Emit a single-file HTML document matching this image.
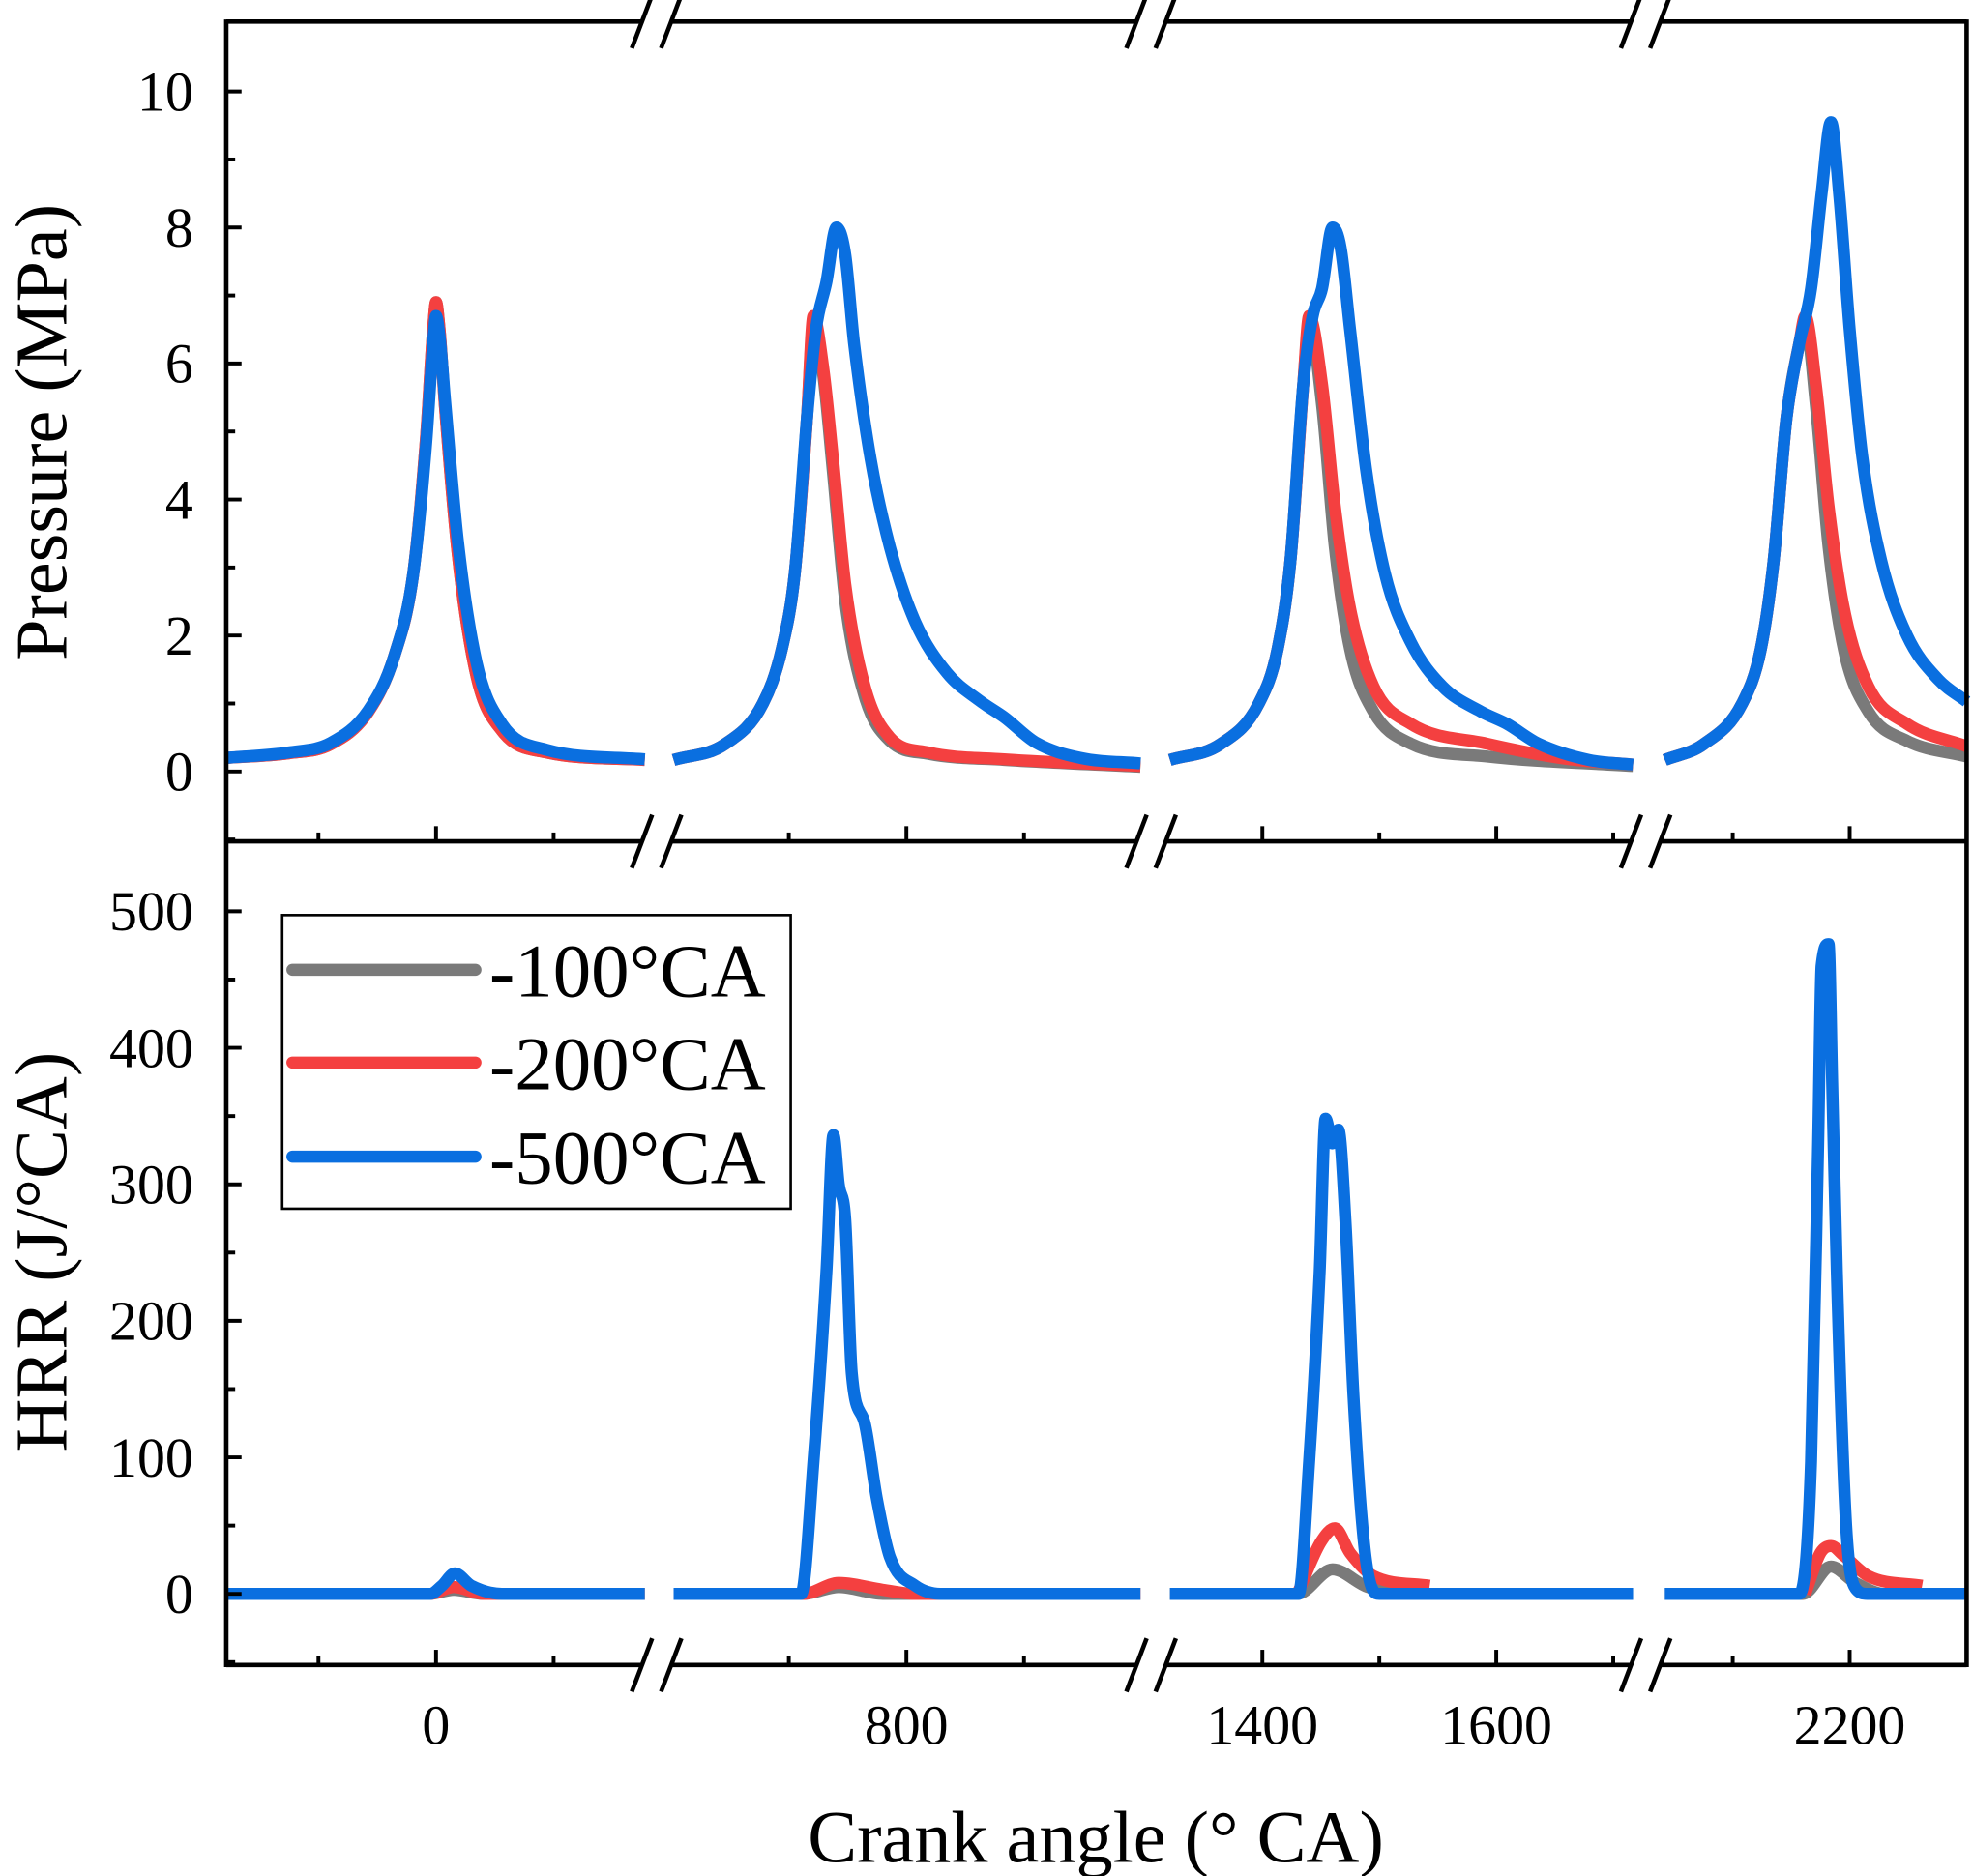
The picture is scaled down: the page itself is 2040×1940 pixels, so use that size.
<!DOCTYPE html>
<html><head><meta charset="utf-8"><style>html,body{margin:0;padding:0;background:#fff}svg{display:block}</style></head>
<body>
<svg id="chart" width="2040" height="1940" viewBox="0 0 1552 1476" preserveAspectRatio="none" xmlns="http://www.w3.org/2000/svg" font-family="'Liberation Serif', serif">
<g id="g"></g>
</svg>
<script>
// ===== data =====
const seriesNames = ['-100°CA','-200°CA','-500°CA'];
const seriesColors = ['#7a7a7a','#f44040','#0a6fe0'];
// pressure [angle, MPa] per segment
const pGray1 = [[-357,0.2],[-250,0.27],[-179,0.4],[-115,0.88],[-71,1.7],[-39,2.9],[-17,4.9],[-5,6.5],[0,6.9],[6,6.5],[15,5.4],[37,3.2],[69,1.4],[112,0.6],[188,0.28],[355,0.17]];
const pRed1 = [[-357,0.2],[-250,0.27],[-179,0.4],[-115,0.88],[-71,1.7],[-39,2.9],[-17,4.9],[-5,6.5],[0,6.9],[6,6.5],[15,5.4],[37,3.2],[69,1.4],[112,0.6],[188,0.28],[355,0.17]];
const pBlue1 = [[-357,0.2],[-250,0.28],[-179,0.42],[-115,0.9],[-71,1.7],[-39,2.9],[-17,4.8],[-5,6.3],[0,6.7],[6,6.4],[15,5.5],[37,3.4],[69,1.6],[112,0.7],[188,0.32],[355,0.18]];
const pGray2 = [[404,0.17],[491,0.4],[556,1.0],[588,1.8],[610,2.9],[631,5.2],[642,6.6],[659,5.8],[675,4.4],[696,2.5],[729,1.1],[772,0.45],[837,0.26],[966,0.17],[1198,0.07]];
const pRed2 = [[404,0.17],[491,0.4],[556,1.0],[588,1.8],[610,2.9],[631,5.2],[642,6.7],[659,5.9],[675,4.6],[696,2.75],[729,1.25],[772,0.5],[837,0.28],[966,0.18],[1198,0.08]];
const pBlue2 = [[404,0.17],[491,0.4],[556,1.0],[588,1.8],[610,2.9],[631,5.2],[646,6.5],[664,7.2],[681,8.0],[696,7.6],[711,6.3],[739,4.6],[772,3.3],[815,2.2],[869,1.45],[923,1.05],[966,0.8],[1021,0.42],[1096,0.2],[1198,0.12]];
const pGray3 = [[1321,0.17],[1364,0.4],[1397,1.0],[1413,1.8],[1424,3.1],[1435,5.7],[1440,6.6],[1451,5.4],[1462,3.3],[1475,1.8],[1495,0.88],[1527,0.41],[1592,0.22],[1717,0.08]];
const pRed3 = [[1321,0.17],[1364,0.4],[1397,1.0],[1413,1.8],[1424,3.1],[1435,5.7],[1440,6.7],[1451,5.7],[1462,3.9],[1475,2.4],[1495,1.25],[1527,0.7],[1592,0.41],[1658,0.19],[1717,0.1]];
const pBlue3 = [[1321,0.17],[1364,0.4],[1397,1.0],[1413,1.8],[1424,3.1],[1435,5.7],[1443,6.7],[1451,7.1],[1460,8.0],[1467,7.7],[1475,6.5],[1489,4.4],[1505,2.9],[1527,1.9],[1554,1.25],[1587,0.88],[1609,0.7],[1636,0.41],[1679,0.17],[1717,0.1]];
const pGray4 = [[2042,0.17],[2075,0.4],[2108,1.0],[2124,1.8],[2135,3.1],[2146,5.2],[2157,6.3],[2162,6.6],[2171,5.4],[2182,3.3],[2195,1.8],[2216,0.88],[2249,0.45],[2300,0.22]];
const pRed4 = [[2042,0.17],[2075,0.4],[2108,1.0],[2124,1.8],[2135,3.1],[2146,5.2],[2157,6.3],[2162,6.7],[2171,5.7],[2182,3.9],[2195,2.4],[2216,1.25],[2249,0.7],[2300,0.37]];
const pBlue4 = [[2042,0.17],[2075,0.4],[2108,1.0],[2124,1.8],[2135,3.1],[2146,5.2],[2157,6.3],[2167,7.1],[2176,8.5],[2184,9.55],[2191,8.5],[2200,6.5],[2211,4.6],[2227,3.1],[2249,2.0],[2276,1.35],[2300,1.03]];
// HRR [angle, J/°CA]
const hGray1 = [[-357,0],[-10,0],[30,3],[80,0],[355,0]];
const hRed1 = [[-357,0],[-10,0],[30,5],[80,0],[355,0]];
const hBlue1 = [[-357,0],[-10,0],[10,6],[32,15],[60,6],[112,0],[355,0]];
const hGray2 = [[404,0],[625,0],[685,5],[760,0],[1198,0]];
const hRed2 = [[404,0],[625,0],[685,8],[760,3],[815,0],[1198,0]];
const hBlue2 = [[404,0],[621,0],[642,97],[664,236],[676,336],[685,300],[696,274],[707,162],[729,125],[750,69],[772,27],[815,6],[858,0],[1198,0]];
const hGray3 = [[1321,0],[1430,0],[1460,18],[1490,5],[1527,0],[1717,0]];
const hRed3 = [[1430,0],[1450,38],[1462,48],[1475,30],[1495,13],[1543,6]];
const hBlue3 = [[1321,0],[1431,0],[1440,97],[1449,236],[1454,348],[1460,330],[1465,340],[1471,274],[1478,143],[1489,22],[1500,0],[1717,0]];
const hGray4 = [[2042,0],[2160,0],[2184,20],[2205,8],[2230,0],[2300,0]];
const hRed4 = [[2162,0],[2175,30],[2184,35],[2195,28],[2216,13],[2262,6]];
const hBlue4 = [[2042,0],[2157,0],[2167,97],[2173,330],[2176,460],[2182,476],[2185,375],[2189,236],[2197,50],[2205,4],[2215,0],[2300,0]];
const pTicks = [0,2,4,6,8,10];
const hTicks = [0,100,200,300,400,500];
const xTickLabels = [0,800,1400,1600,2200];
const xMinorTicks = [-200,200,600,1000,1500,1700,2100];

// ===== axes =====
const segs = [
 {a0:-357,a1:354,ref:0,px:343,k:0.4625},
 {a0:404,a1:1198,ref:800,px:713,k:0.4625},
 {a0:1321,a1:1717,ref:1400,px:993,k:0.92},
 {a0:2042,a1:2300,ref:2200,px:1455,k:0.92}];
function segOf(a){for(const s of segs){if(a>=s.a0-1&&a<=s.a1+1)return s;}return segs[segs.length-1];}
function xS(a){const s=segOf(a);return s.px+(a-s.ref)*s.k;}
function yP(v){return 607-53.5*v;}
function yH(v){return 1254-1.074*v;}
const L=178,R=1547,T=17,M=662,B=1310;
const NS='http://www.w3.org/2000/svg', g=document.getElementById('g');
function el(t,attrs){const e=document.createElementNS(NS,t);for(const k in attrs)e.setAttribute(k,attrs[k]);g.appendChild(e);return e;}
function line(x1,y1,x2,y2,w,name){const e=el('line',{x1,y1,x2,y2,stroke:'#000','stroke-width':w});

return e;}
function text(x,y,s,size,anchor,name,rot){const e=el('text',{x,y,'font-size':size,'text-anchor':anchor||'middle',fill:'#000'});e.textContent=s;if(rot)e.setAttribute('transform',rot);

return e;}

// monotone cubic path
function monoPath(P){
 const n=P.length;if(n<2)return '';
 const d=[],m=new Array(n);
 for(let i=0;i<n-1;i++)d.push((P[i+1][1]-P[i][1])/(P[i+1][0]-P[i][0]));
 m[0]=d[0];m[n-1]=d[n-2];
 for(let i=1;i<n-1;i++){m[i]=(d[i-1]*d[i]<=0)?0:(d[i-1]+d[i])/2;}
 for(let i=0;i<n-1;i++){if(d[i]===0){m[i]=0;m[i+1]=0;continue;}
  const a=m[i]/d[i],b=m[i+1]/d[i],s=a*a+b*b;if(s>9){const t=3/Math.sqrt(s);m[i]=t*a*d[i];m[i+1]=t*b*d[i];}}
 let s='M'+P[0][0].toFixed(1)+','+P[0][1].toFixed(1);
 for(let i=0;i<n-1;i++){const h=(P[i+1][0]-P[i][0])/3;
  s+=' C'+(P[i][0]+h).toFixed(1)+','+(P[i][1]+m[i]*h).toFixed(1)+' '+(P[i+1][0]-h).toFixed(1)+','+(P[i+1][1]-m[i+1]*h).toFixed(1)+' '+P[i+1][0].toFixed(1)+','+P[i+1][1].toFixed(1);}
 return s;
}

// series
const pSets=[[pGray1,pGray2,pGray3,pGray4],[pRed1,pRed2,pRed3,pRed4],[pBlue1,pBlue2,pBlue3,pBlue4]];
const hSets=[[hGray1,hGray2,hGray3,hGray4],[hRed1,hRed2,hRed3,hRed4],[hBlue1,hBlue2,hBlue3,hBlue4]];
function drawSeries(sets,yf,panel){
 sets.forEach((segsData,i)=>{segsData.forEach((d,j)=>{
  const pts=d.map(p=>[xS(p[0]),yf(p[1])]);
  const e=el('path',{d:monoPath(pts),fill:'none',stroke:seriesColors[i],'stroke-width':9.5,'stroke-linejoin':'round','stroke-linecap':'butt'});
  
  
 });});
}
drawSeries(pSets,yP,'pressure');
drawSeries(hSets,yH,'hrr');

// frame with breaks
const brk=[[505,528],[894,917],[1283,1306]];
[T,M,B].forEach((y,yi)=>{
 let xs=[L];brk.forEach(b=>{xs.push(b[0]);xs.push(b[1]);});xs.push(R);
 for(let i=0;i<xs.length;i+=2)line(xs[i],y,xs[i+1],y,3.5,'frame-h-'+yi+'-'+i);
 brk.forEach((b,bi)=>{b.forEach((x,k)=>{line(x-8,y+21,x+8,y-21,3.5,'axis-break-'+yi+'-'+bi+'-'+k);});});
});
line(L,T-1.7,L,B+1.7,3.5,'left-axis');
line(R,T-1.7,R,B+1.7,3.5,'right-axis');

// y ticks
pTicks.forEach(v=>{line(L,yP(v),L+12,yP(v),3,'pressure-tick');text(152,yP(v)+15,String(v),44,'end','pressure-tick-label');});
[-1,1,3,5,7,9].forEach(v=>line(L,yP(v),L+7,yP(v),3,'pressure-minor-tick'));
hTicks.forEach(v=>{line(L,yH(v),L+12,yH(v),3,'hrr-tick');text(152,yH(v)+15,String(v),44,'end','hrr-tick-label');});
[-50,50,150,250,350,450].forEach(v=>line(L,yH(v),L+7,yH(v),3,'hrr-minor-tick'));
// x ticks
[M,B].forEach(y=>{
 xTickLabels.forEach(a=>line(xS(a),y,xS(a),y-12,3,'x-tick'));
 xMinorTicks.forEach(a=>line(xS(a),y,xS(a),y-7,3,'x-minor-tick'));
});
xTickLabels.forEach(a=>text(xS(a),1372,String(a),44,'middle','x-tick-label'));

// titles
text(862,1465,'Crank angle (° CA)',58,'middle','x-axis-title');
text(52,340,'Pressure (MPa)',58,'middle','pressure-axis-title','rotate(-90 52 340)');
text(52,985,'HRR (J/°CA)',58,'middle','hrr-axis-title','rotate(-90 52 985)');

// legend
const lb=el('rect',{x:222,y:720,width:400,height:231,fill:'#fff',stroke:'#000','stroke-width':2});


const ly=[763,836,910];
seriesNames.forEach((n,i)=>{
 const e=el('line',{x1:230,y1:ly[i],x2:374,y2:ly[i],stroke:seriesColors[i],'stroke-width':9.5,'stroke-linecap':'round'});
 
 
 text(385,ly[i]+21,n,60,'start','legend-entry-'+(i+1));
});
</script>
</body></html>
